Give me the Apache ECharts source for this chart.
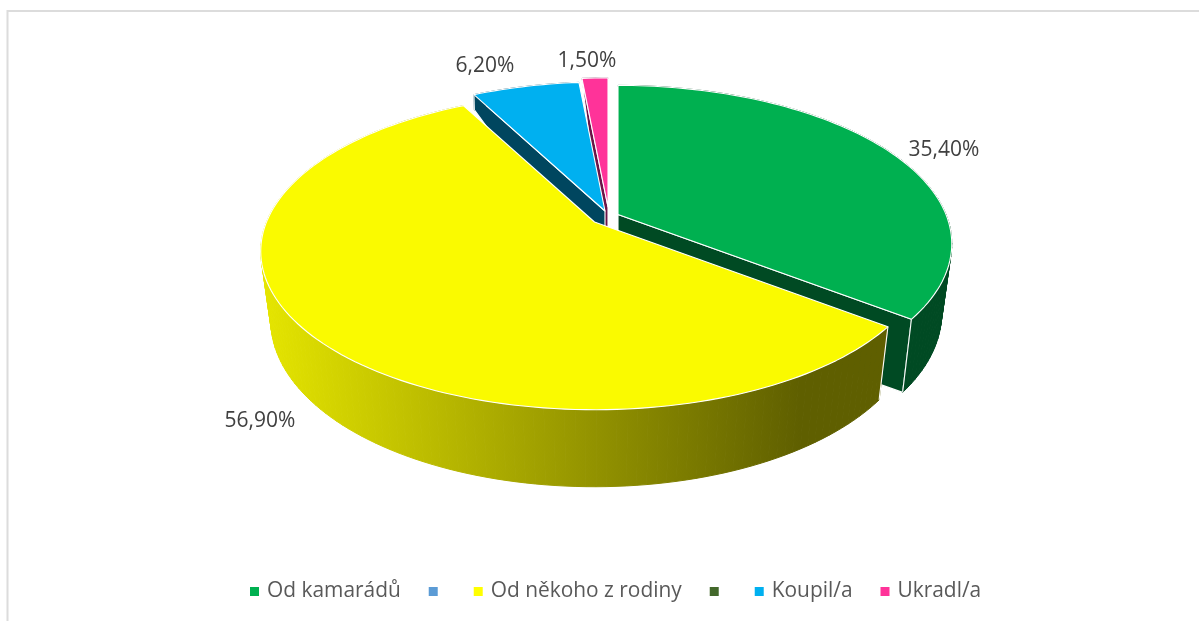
<!DOCTYPE html>
<html>
<head>
<meta charset="utf-8">
<title>Od koho</title>
<script src="https://cdn.jsdelivr.net/npm/echarts@6/dist/echarts.min.js"></script>
<style>
  html, body { margin: 0; padding: 0; background: #fff; }
  #chart { width: 1199px; height: 621px; }
</style>
</head>
<body>
<div id="chart"></div>
<script>
// data
const sliceNames = ['Od kamarádů', '\u200b', 'Od někoho z rodiny', '\u200b\u200b', 'Koupil/a', 'Ukradl/a']
const sliceValues = [35.4, 0, 56.9, 0, 6.2, 1.5]
const sliceColors = ['#00b050', '#5b9bd5', '#fafa00', '#43682b', '#00b0f0', '#ff3399']
const wallColors = ['#004a23', '#2d4d6a', null, '#203315', '#00465f', '#6b1448']

// layout of the tilted pie: apex of each slice on screen, label centre
const apexes = [[618, 214.5], null, [594.5, 222], null, [605, 211], [608, 207]]
const labelAnchors = [[944, 150.5], null, [260, 421], null, [485, 66], [587, 61.5]]
const drawOrder = [2, 1, 6, 3, 5, 4] // far slices first, yellow on top
const RX = 328
const RY = 153
const PERSPECTIVE = 0.185
const BOTTOM_SCALE = 0.97
const DEPTH = 67

const yellowWall = new echarts.graphic.LinearGradient(260, 0, 800, 0, [
  { offset: 0, color: '#e6e600' },
  { offset: 1, color: '#5f5f00' }
], true)

// phi is clockwise from the top of the pie, in degrees
const project = (apex, phi, bottom) => {
  const rad = phi * Math.PI / 180
  const x = Math.sin(rad)
  const y = -Math.cos(rad)
  const w = 1 - PERSPECTIVE * y
  const back = Math.max(0, -y)
  const sx = bottom ? BOTTOM_SCALE + (1 - BOTTOM_SCALE) * back : 1
  // the wall looks taller towards the viewer, almost flat at the far side
  const depth = bottom ? (y >= 0 ? DEPTH + 10 * y : DEPTH - (DEPTH - 1) * back * back) : 0
  return [apex[0] + sx * RX * x / w, apex[1] + RY * y / w + depth]
}

const rim = (apex, from, to, bottom) => {
  const n = Math.max(2, Math.ceil(Math.abs(to - from) / 1.5))
  const pts = []
  for (let i = 0; i <= n; i++) pts.push(project(apex, from + (to - from) * i / n, bottom))
  return pts
}

const signedArea = (pts) => {
  let s = 0
  pts.forEach((p, i) => {
    const q = pts[(i + 1) % pts.length]
    s += p[0] * q[1] - q[0] * p[1]
  })
  return s / 2
}

const startAngle = (index) => {
  let sum = 0
  for (let i = 0; i < index; i++) sum += sliceValues[i]
  return sum * 3.6
}

const poly = (points, fill) => ({
  type: 'polygon',
  shape: { points },
  style: { fill, stroke: '#fff', lineWidth: 1.1, lineJoin: 'round' }
})

const edge = (a, b) => ({
  type: 'line',
  shape: { x1: a[0], y1: a[1], x2: b[0], y2: b[1] },
  style: { stroke: '#fff', lineWidth: 1.1 }
})

const renderSlice = (params, api) => {
  const index = params.seriesIndex
  const value = api.value(0)
  if (!value) return { type: 'group', children: [] }

  const from = startAngle(index)
  const to = from + value * 3.6
  const apex = apexes[index]
  const apexBottom = [apex[0], apex[1] + DEPTH + 10]
  const wall = wallColors[index] || yellowWall
  const children = []

  // flat sides, only where they face the viewer
  const startSide = [apex, project(apex, from), project(apex, from, true), apexBottom]
  const endSide = [apex, project(apex, to), project(apex, to, true), apexBottom]
  if (signedArea(startSide) < -1) children.push(poly(startSide, wallColors[index] || '#5f5f00'))
  if (signedArea(endSide) > 1) children.push(poly(endSide, wallColors[index] || '#5f5f00'))

  // outer wall in narrow strips so the silhouette joins top and bottom rim
  const top = rim(apex, from, to)
  const bottom = rim(apex, from, to, true)
  for (let i = 0; i < top.length - 1; i++) {
    children.push({
      type: 'polygon',
      shape: { points: [top[i], top[i + 1], bottom[i + 1], bottom[i]] },
      style: { fill: wall, stroke: wall, lineWidth: 1 }
    })
  }
  children.push(edge(top[0], bottom[0]))
  children.push(edge(top[top.length - 1], bottom[bottom.length - 1]))

  // top face
  children.push(poly([apex].concat(top), sliceColors[index]))

  children.push({
    type: 'text',
    style: {
      x: labelAnchors[index][0],
      y: labelAnchors[index][1],
      text: value.toFixed(2).replace('.', ',') + '%',
      fill: '#404040',
      font: '21px "Open Sans"',
      align: 'center',
      verticalAlign: 'middle'
    }
  })
  return { type: 'group', children }
}

const chart = echarts.init(document.getElementById('chart'), null, { renderer: 'canvas' })

chart.setOption({
  animation: false,
  backgroundColor: '#fff',
  tooltip: { show: false },
  legend: {
    data: sliceNames,
    left: 245,
    top: 576,
    icon: 'rect',
    itemWidth: 9,
    itemHeight: 9,
    itemGap: 28,
    selectedMode: false,
    textStyle: { color: '#595959', fontFamily: 'Open Sans', fontSize: 20.9, padding: [0, 0, 0, 3] }
  },
  graphic: [
    {
      type: 'polyline',
      silent: true,
      shape: { points: [[7.5, 621], [7.5, 11], [1199, 11]] },
      style: { fill: 'none', stroke: '#dcdcdc', lineWidth: 2 }
    }
  ],
  series: sliceNames.map((name, i) => ({
    name,
    type: 'custom',
    coordinateSystem: 'none',
    z: drawOrder[i] + 2,
    silent: true,
    itemStyle: { color: sliceColors[i] === '#fafa00' ? '#ffff00' : sliceColors[i] },
    renderItem: renderSlice,
    data: [[sliceValues[i]]]
  }))
})
</script>
</body>
</html>
